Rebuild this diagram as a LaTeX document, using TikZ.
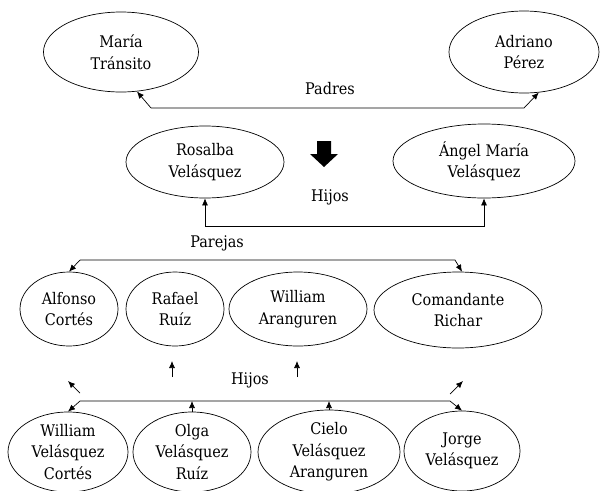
\documentclass[tikz,border=0pt]{standalone}
\usepackage{fontspec}
\setmainfont{DejaVu Serif}[FakeStretch=0.9]
\usetikzlibrary{shapes.geometric,arrows.meta}
\begin{document}
\begin{tikzpicture}[x=1pt,y=-1pt,
  person/.style={draw,ellipse,inner sep=-12pt,align=center,
    font=\fontsize{16}{21.5}\selectfont},
  lbl/.style={inner sep=0pt,font=\fontsize{16}{21.5}\selectfont},
  tip/.style={-{Latex[length=7pt,width=6pt]},line width=0.7pt},
  line width=0.7pt]
\useasboundingbox (0,0) rectangle (604,490);
% row 1
\node[person,minimum width=155pt,minimum height=80pt] (maria) at (121,52) {María\\Tránsito};
\node[person,minimum width=150pt,minimum height=82pt] (adriano) at (524,52) {Adriano\\Pérez};
\node[lbl] (padres) at (330,89) {Padres};
\coordinate (pa) at (151,108);
\coordinate (pb) at (524,108);
\draw[tip] (pa) -- (pb) -- (adriano.290);
\draw[tip] (pa) -- (maria.292);
% big down arrow
\fill (317,141) -- (331,141) -- (331,154) -- (338,154) -- (324,167) -- (310,154) -- (317,154) -- cycle;
% row 2
\node[person,minimum width=158pt,minimum height=72pt] (rosalba) at (205,162) {Rosalba\\Velásquez};
\node[person,minimum width=182pt,minimum height=74pt] (angel) at (484,161) {Ángel María\\Velásquez};
\node[lbl] (hijos1) at (330,197) {Hijos};
\coordinate (ha) at (rosalba.south |- 0,226);
\coordinate (hb) at (angel.south |- 0,226);
\draw[tip] (ha) -- (hb) -- (angel.south);
\draw[tip] (ha) -- (rosalba.south);
% row 3
\node[lbl] (parejas) at (217,243) {Parejas};
\node[person,minimum width=98pt,minimum height=74pt] (alfonso) at (69,309) {Alfonso\\Cortés};
\node[person,minimum width=98pt,minimum height=74pt] (rafael) at (175,309) {Rafael\\Ruíz};
\node[person,minimum width=138pt,minimum height=74pt] (william) at (298,309) {William\\Aranguren};
\node[person,minimum width=168pt,minimum height=76pt] (comandante) at (458,310) {Comandante\\Richar};
\coordinate (qa) at (80,260);
\coordinate (qb) at (455,260);
\draw[tip] (qa) -- (qb) -- (comandante.84);
\draw[tip] (qa) -- (alfonso.north);
% floating arrows
\node[lbl] (hijos2) at (250,380) {Hijos};
\coordinate (f1a) at (172,377); \coordinate (f1b) at (172,361);
\coordinate (f2a) at (297,377); \coordinate (f2b) at (297,361);
\coordinate (f3a) at (80,393); \coordinate (f3b) at (68,381);
\coordinate (f4a) at (450,394); \coordinate (f4b) at (463,381);
\draw[tip] (f1a) -- (f1b);
\draw[tip] (f2a) -- (f2b);
\draw[tip] (f3a) -- (f3b);
\draw[tip] (f4a) -- (f4b);
% row 4
\node[person,minimum width=120pt,minimum height=80pt] (wvc) at (68,452) {William\\Velásquez\\Cortés};
\node[person,minimum width=118pt,minimum height=80pt] (olga) at (192,452) {Olga\\Velásquez\\Ruíz};
\node[person,minimum width=142pt,minimum height=84pt] (cielo) at (329,452) {Cielo\\Velásquez\\Aranguren};
\node[person,minimum width=116pt,minimum height=80pt] (jorge) at (462,451) {Jorge\\Velásquez};
\coordinate (ra) at (80,401);
\coordinate (rb) at (450,401);
\draw[tip] (ra) -- (rb) -- (jorge.north);
\draw[tip] (ra) -- (wvc.north);
\draw[tip] (olga.north) -- (olga.north |- rb);
\draw[tip] (cielo.north) -- (cielo.north |- rb);
\end{tikzpicture}
\end{document}
